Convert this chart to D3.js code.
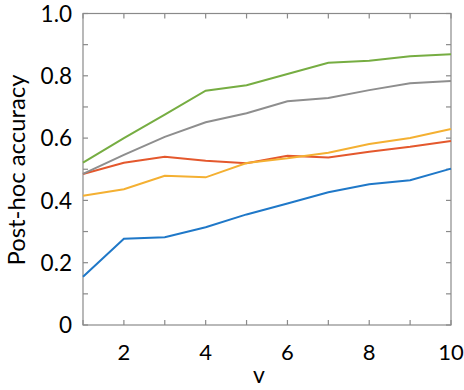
<!DOCTYPE html>
<meta charset="utf-8">
<head>
<title>Post-hoc accuracy vs v</title>
<script src="https://d3js.org/d3.v7.min.js"></script>
<style>
  body { margin: 0; background: #fff; }
  text { font-family: Lato, "Liberation Sans", sans-serif; fill: #000; }
</style>
</head>
<body>
<div id="chart"></div>
<script>
// x values (v)
var vValues = [1, 2, 3, 4, 5, 6, 7, 8, 9, 10];

// series
var blueSeries   = [0.155, 0.277, 0.282, 0.314, 0.355, 0.390, 0.426, 0.452, 0.465, 0.502];
var redSeries    = [0.485, 0.521, 0.540, 0.527, 0.519, 0.543, 0.538, 0.556, 0.572, 0.591];
var yellowSeries = [0.415, 0.436, 0.479, 0.474, 0.520, 0.535, 0.553, 0.581, 0.600, 0.629];
var graySeries   = [0.485, 0.546, 0.604, 0.651, 0.680, 0.718, 0.729, 0.754, 0.776, 0.783];
var greenSeries  = [0.521, 0.600, 0.675, 0.752, 0.770, 0.806, 0.842, 0.848, 0.863, 0.869];

var xTickLabels = [2, 4, 6, 8, 10];
var yTickLabels = [0, 0.2, 0.4, 0.6, 0.8, 1.0];

var width = 464,
    height = 390;
var margin = {top: 13.5, right: 13, bottom: 65, left: 83};

var svg = d3.select("#chart")
  .append("svg")
    .attr("width", width)
    .attr("height", height);

var x = d3.scaleLinear()
    .domain([1, 10])
    .range([margin.left, width - margin.right]);

var y = d3.scaleLinear()
    .domain([0, 1])
    .range([height - margin.bottom, margin.top]);

var axisColor = "#8a8a8a";
var tickLen = 5;
var xTicks = d3.range(1, 11);
var yTicks = d3.range(0, 11).map(function(i) { return i / 10; });

// frame
svg.append("rect")
    .attr("x", x(1))
    .attr("y", y(1))
    .attr("width", x(10) - x(1))
    .attr("height", y(0) - y(1))
    .attr("fill", "none")
    .attr("stroke", axisColor)
    .attr("stroke-width", 1.2);

// inward ticks on all four sides
var g = svg.append("g").attr("stroke", axisColor).attr("stroke-width", 1.2);
xTicks.forEach(function(t) {
  g.append("line").attr("x1", x(t)).attr("x2", x(t))
    .attr("y1", y(0)).attr("y2", y(0) - tickLen);
  g.append("line").attr("x1", x(t)).attr("x2", x(t))
    .attr("y1", y(1)).attr("y2", y(1) + tickLen);
});
yTicks.forEach(function(t) {
  g.append("line").attr("x1", x(1)).attr("x2", x(1) + tickLen)
    .attr("y1", y(t)).attr("y2", y(t));
  g.append("line").attr("x1", x(10)).attr("x2", x(10) - tickLen)
    .attr("y1", y(t)).attr("y2", y(t));
});

// tick labels
svg.append("g").selectAll("text")
  .data(xTickLabels)
  .join("text")
    .attr("x", function(d) { return x(d); })
    .attr("y", 360)
    .attr("text-anchor", "middle")
    .style("font-size", "22px")
    .text(function(d) { return d; });

svg.append("g").selectAll("text")
  .data(yTickLabels)
  .join("text")
    .attr("x", 72)
    .attr("y", function(d) { return y(d); })
    .attr("dy", "0.36em")
    .attr("text-anchor", "end")
    .style("font-size", "22.5px")
    .text(function(d) { return d === 0 ? "0" : d3.format(".1f")(d); });

// axis titles
svg.append("text")
    .attr("x", 259)
    .attr("y", 383)
    .attr("text-anchor", "middle")
    .style("font-size", "23px")
    .text("v");

svg.append("text")
    .attr("transform", "translate(25,170) rotate(-90)")
    .attr("text-anchor", "middle")
    .attr("textLength", 191)
    .attr("lengthAdjust", "spacingAndGlyphs")
    .style("font-size", "23px")
    .text("Post-hoc accuracy");

// lines
var series = [
  {values: blueSeries,   color: "#1f78c8"},
  {values: redSeries,    color: "#e4582d"},
  {values: yellowSeries, color: "#f4b032"},
  {values: graySeries,   color: "#8e8e8e"},
  {values: greenSeries,  color: "#76ad42"}
];

var line = d3.line()
    .x(function(d, i) { return x(vValues[i]); })
    .y(function(d) { return y(d); });

series.forEach(function(s) {
  svg.append("path")
    .attr("d", line(s.values))
    .attr("stroke", s.color)
    .attr("stroke-width", 2)
    .attr("fill", "none");
});
</script>
</body>
